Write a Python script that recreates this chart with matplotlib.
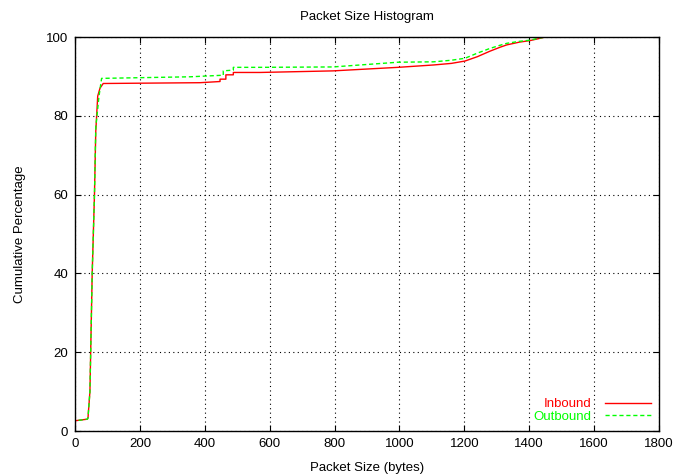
import numpy as np
import matplotlib.pyplot as plt

plt.rcParams['font.family'] = ['Liberation Sans', 'DejaVu Sans']

# cumulative percentage
in_size = [0, 0, 38, 40, 46, 53, 60, 64, 70, 77, 87, 385, 447, 447, 465, 465, 488, 488,
           570, 795, 996, 1105, 1160, 1202, 1240, 1279, 1310, 1331, 1370, 1403, 1430, 1449, 1751]
in_pct = [0, 2.6, 3.0, 3.3, 10, 40, 60, 76, 85, 87, 88.2, 88.4, 88.7, 89.3, 89.3, 90.4, 90.4, 91.0,
          91.0, 91.4, 92.3, 92.9, 93.3, 93.9, 95.0, 96.4, 97.4, 98.0, 98.7, 99.1, 99.6, 100, 100]

out_size = [0, 0, 38, 40, 46, 53, 60, 64, 74, 82, 355, 457, 457, 488, 488,
            570, 795, 996, 1105, 1160, 1202, 1240, 1279, 1310, 1331, 1370, 1403, 1430, 1449, 1751]
out_pct = [0, 2.6, 3.0, 3.3, 10, 40, 60, 77, 85, 89.5, 89.9, 90.3, 91.4, 91.6, 92.3,
           92.3, 92.4, 93.6, 93.7, 94.1, 94.6, 95.9, 97.1, 97.9, 98.4, 98.9, 99.2, 99.7, 100, 100]

fig = plt.figure(figsize=(6.93, 4.75), dpi=100)
ax = fig.add_axes([75 / 693, 44 / 475, 584 / 693, 394 / 475])

ax.plot(in_size, in_pct, color='#ff0000', lw=1, label='Inbound')
ax.plot(out_size, out_pct, color='#00ff00', lw=1, ls=(0, (3, 2)), label='Outbound')

ax.set_xlim(0, 1800)
ax.set_ylim(0, 100)
ax.set_xticks(np.arange(0, 1801, 200))
ax.set_yticks(np.arange(0, 101, 20))
ax.grid(True, color='black', ls=(0, (1, 3)), lw=0.8)
ax.tick_params(direction='in', top=True, right=True, length=4, labelsize=9.5, pad=5)
for s in ax.spines.values():
    s.set_linewidth(1)

ax.set_title('Packet Size Histogram', fontsize=9.5, pad=12)
ax.set_xlabel('Packet Size (bytes)', fontsize=9.5, labelpad=9)
ax.set_ylabel('Cumulative Percentage', fontsize=9.5, labelpad=14)

leg = ax.legend(loc='lower right', frameon=False, markerfirst=False, labelcolor='linecolor',
                fontsize=9.5, handlelength=3.5, handletextpad=1.0, borderaxespad=0.4,
                borderpad=0.2, labelspacing=0.05)

fig.savefig('out.png', dpi=100)
